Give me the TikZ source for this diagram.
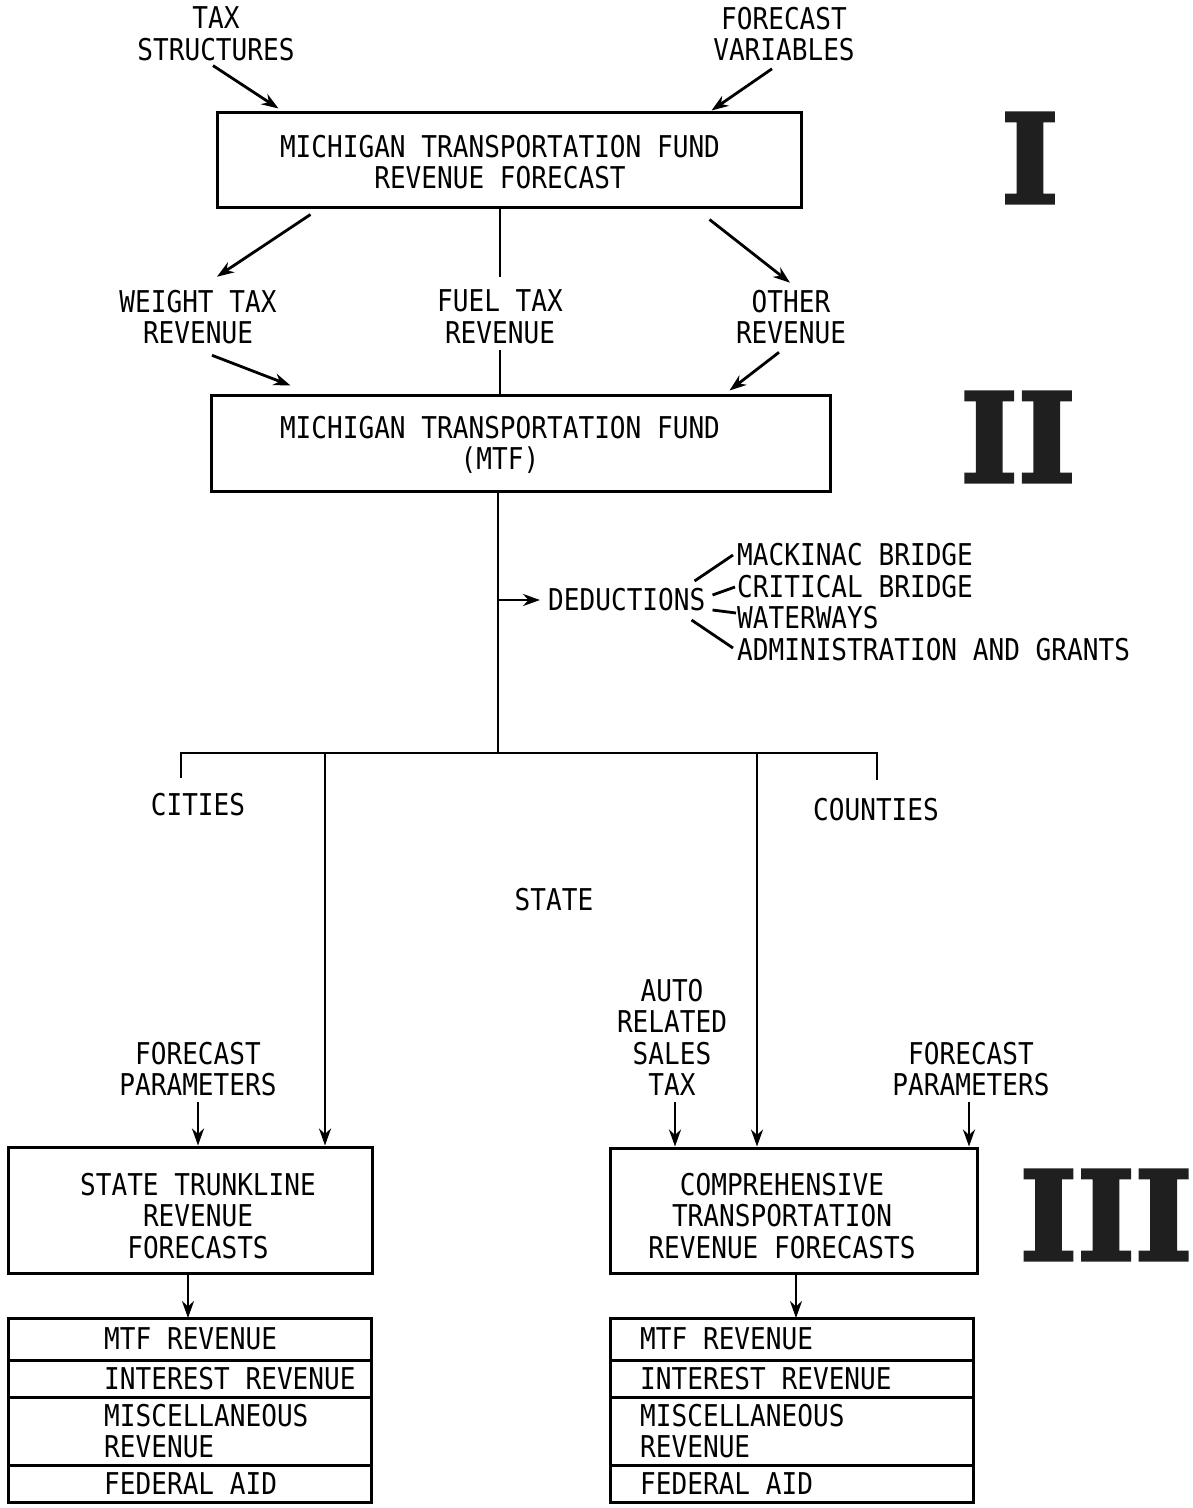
\documentclass[tikz,border=0pt]{standalone}
\usepackage{fontspec}
\setmainfont[FakeStretch=0.87]{DejaVu Sans Mono}
\newfontfamily\romfont[FakeBold=3]{DejaVu Serif Bold}
\usetikzlibrary{arrows.meta,calc}
\tikzset{
  every node/.style={font=\fontsize{30}{31.5}\selectfont, inner sep=0pt},
  txt/.style={align=center},
  frame/.style={draw, line width=3pt},
  row/.style={frame, anchor=north west, outer sep=0pt, minimum width=363pt},
  ln/.style={line width=2.8pt},
  arr/.style={ln, -{Stealth[length=17pt,width=12pt]}},
  numeral/.style={font=\romfont\fontsize{123}{123}\selectfont, text=black!88}
}
\begin{document}
\begin{tikzpicture}[x=1pt,y=-1pt]
  \useasboundingbox (0,0) rectangle (1192,1508);
  % level I
  \draw
    (216,34) node[txt] (tax){TAX\\STRUCTURES}
    (784,34) node[txt] (fvar){FORECAST\\VARIABLES}
    (509,159.5) node[frame, minimum width=584pt, minimum height=95pt] (mtf1){}
    (500,162) node[txt] (mtf1txt){MICHIGAN TRANSPORTATION FUND\\REVENUE FORECAST}
    (1030,158) node[numeral] (lvl1){I};
  % revenue sources
  \draw
    (198,317) node[txt] (weight){WEIGHT TAX\\REVENUE}
    (500,317) node[txt] (fuel){FUEL TAX\\REVENUE}
    (791,317) node[txt] (other){OTHER\\REVENUE};
  % level II
  \draw
    (520.5,443) node[frame, minimum width=619pt, minimum height=96pt] (mtf2){}
    (500,445) node[txt] (mtf2txt){MICHIGAN TRANSPORTATION FUND\\(MTF)}
    (1018,437) node[numeral] (lvl2){II};
  % deductions
  \draw
    (548,600) node[anchor=west] (ded){DEDUCTIONS}
    (737,555) node[anchor=west] (mack){MACKINAC BRIDGE}
    (737,587) node[anchor=west] (crit){CRITICAL BRIDGE}
    (737,618) node[anchor=west] (wat){WATERWAYS}
    (737,650) node[anchor=west] (adm){ADMINISTRATION AND GRANTS};
  % distribution
  \coordinate (split) at (498,753);
  \coordinate (cityend) at (181,778);
  \coordinate (cntyend) at (877,780);
  \coordinate (stlin) at (325,753);
  \coordinate (ctrin) at (757,753);
  \draw
    (198,805) node (cities){CITIES}
    (876,810) node (counties){COUNTIES}
    (554,900) node (state){STATE};
  % level III
  \draw
    (198,1069) node[txt] (fpl){FORECAST\\PARAMETERS}
    (672,1037.5) node[txt] (auto){AUTO\\RELATED\\SALES\\TAX}
    (971,1069) node[txt] (fpr){FORECAST\\PARAMETERS}
    (190,1210) node[frame, minimum width=364pt, minimum height=126pt] (stl){}
    (198,1216) node[txt] (stltxt){STATE TRUNKLINE\\REVENUE\\FORECASTS}
    (793.5,1210.5) node[frame, minimum width=367pt, minimum height=125pt] (ctr){}
    (782,1216) node[txt] (ctrtxt){COMPREHENSIVE\\TRANSPORTATION\\REVENUE FORECASTS}
    (1106,1215) node[numeral] (lvl3){III};
  % revenue tables
  \foreach \s/\x/\tx in {l/8/104, r/610/640} {
    \node[row, minimum height=42pt] (\s mtf) at (\x,1318) {};
    \node[row, minimum height=37pt] (\s int) at (\x,1360) {};
    \node[row, minimum height=68pt] (\s misc) at (\x,1397) {};
    \node[row, minimum height=37pt] (\s fed) at (\x,1465) {};
    \node[anchor=west] (\s mtftxt) at (\tx,1339) {MTF REVENUE};
    \node[anchor=west] (\s inttxt) at (\tx,1378.5) {INTEREST REVENUE};
    \node[anchor=west, align=left] (\s misctxt) at (\tx,1431) {MISCELLANEOUS\\REVENUE};
    \node[anchor=west] (\s fedtxt) at (\tx,1483.5) {FEDERAL AID};
  }
  \begin{scope}[arr]
    \draw ($(tax.south)+(-3,4.5)$) -- ($(mtf1.north west)+(63,-2)$);
    \draw ($(fvar.south)+(-12,7.5)$) -- ($(mtf1.north east)+(-91,0)$);
    \draw ($(mtf1.south west)+(95,6)$) -- ($(weight.north)+(19,-13)$);
    \draw ($(mtf1.south east)+(-93,11)$) -- ($(other.north)+(-1,-7)$);
    \draw ($(weight.south)+(14,11)$) -- ($(mtf2.north west)+(81,-8)$);
    \draw ($(other.south)+(-12,8)$) -- ($(mtf2.north east)+(-102,-3)$);
    \draw (ded.west -| split) -- ([xshift=-8pt]ded.west);
    \draw (stlin) -- (stlin |- stl.north);
    \draw (ctrin) -- (ctrin |- ctr.north);
    \draw ([yshift=-6pt]fpl.south) -- (fpl.south |- stl.north);
    \draw ([yshift=-6pt]auto.south) ++(3,0) -- ($(auto.south |- ctr.north)+(3,0)$);
    \draw ([yshift=-6pt]fpr.south) ++(-2,0) -- ($(fpr.south |- ctr.north)+(-2,0)$);
    \draw (stl.south -| 188,0) -- (lmtf.north -| 188,0);
    \draw (ctr.south -| 796,0) -- (rmtf.north -| 796,0);
  \end{scope}
  \begin{scope}[ln]
    \draw (fuel.north |- mtf1.south) -- ([yshift=13pt]fuel.north);
    \draw ([yshift=-6pt]fuel.south) -- (fuel.south |- mtf2.north);
    \draw (mtf2.south -| split) -- (split);
    \draw (cityend) |- (split) -| (cntyend);
    \draw ($(ded.east)+(-11,-19)$) -- ($(mack.west)+(-4,0)$);
    \draw ($(ded.east)+(7,-5)$) -- ($(crit.west)+(-2,0)$);
    \draw ($(ded.east)+(7,10)$) -- ($(wat.west)+(-1,-5)$);
    \draw ($(ded.east)+(-14,20)$) -- ($(adm.west)+(-4,-2)$);
  \end{scope}
\end{tikzpicture}
\end{document}
